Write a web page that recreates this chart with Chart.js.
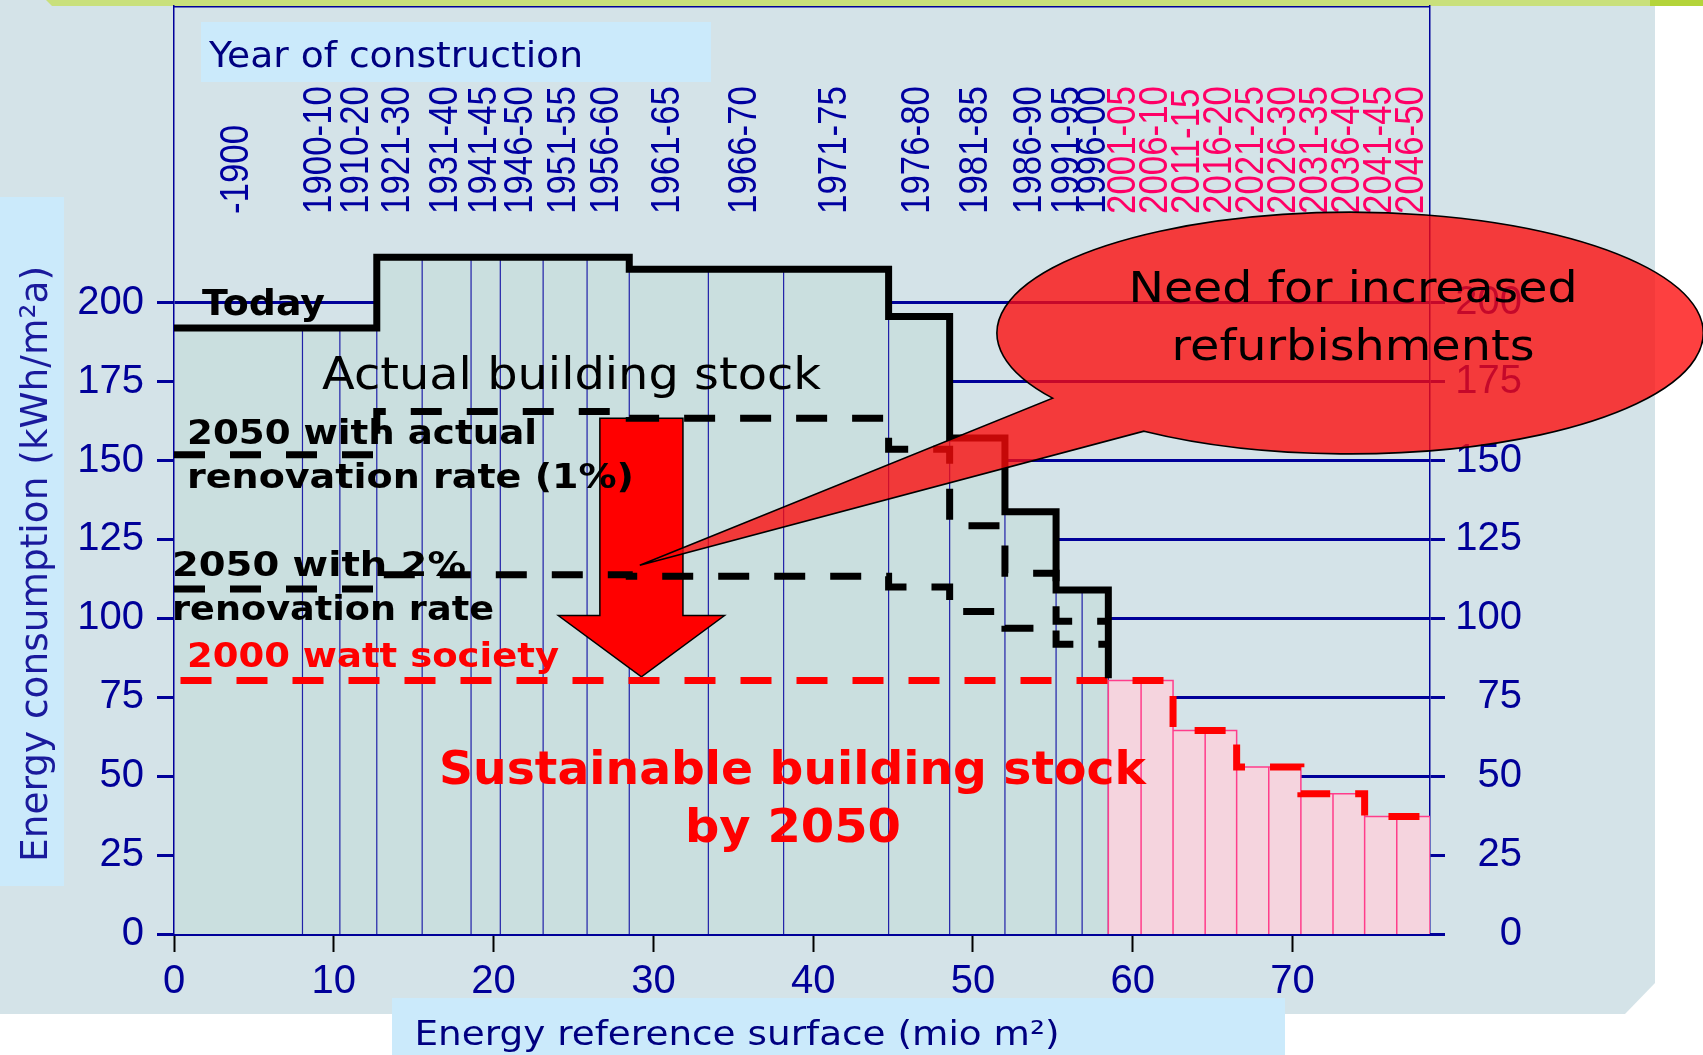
<!DOCTYPE html>
<html>
<head>
<meta charset="utf-8">
<title>Building stock energy consumption</title>
<script src="https://cdn.jsdelivr.net/npm/chart.js@4.4.1/dist/chart.umd.min.js"></script>
<style>
  html, body { margin: 0; padding: 0; background: #fff; }
  #wrap { width: 1703px; height: 1055px; }
</style>
</head>
<body>
<div id="wrap"><canvas id="chart" width="1703" height="1055"></canvas></div>
<script>
// ------------------------------------------------------------
// Data
// ------------------------------------------------------------

// segment edges on the x axis (mio m2), one segment per construction period
const segEdges = [0, 8.04, 10.38, 12.69, 15.53, 18.59, 20.42, 23.10, 25.85, 28.49, 33.44, 38.15,
  44.72, 48.54, 52.0, 55.2, 56.83, 58.47,
  60.52, 62.52, 64.53, 66.50, 68.51, 70.52, 72.53, 74.51, 76.52, 78.60];

const yearLabels = ['-1900', '1900-10', '1910-20', '1921-30', '1931-40', '1941-45', '1946-50',
  '1951-55', '1956-60', '1961-65', '1966-70', '1971-75', '1976-80', '1981-85', '1986-90',
  '1991-95', '1996-00',
  '2001-05', '2006-10', '2011-15', '2016-20', '2021-25', '2026-30', '2031-35', '2036-40',
  '2041-45', '2046-50'];

// existing stock (17 periods), kWh/m2a
const todayValues = [192, 192, 192, 214.4, 214.4, 214.4, 214.4, 214.4, 214.4,
  210.6, 210.6, 210.6, 195.6, 157.1, 133.8, 109, 109];
const todayDropTo = 81;
const renov1Values = [151.8, 151.8, 151.8, 165.5, 165.5, 165.5, 165.5, 165.5, 165.5,
  163.4, 163.4, 163.4, 153.6, 129.3, 114.3, 99.1, 99.1];
const renov2Values = [109.3, 109.3, 109.3, 113.8, 113.8, 113.8, 113.8, 113.8, 113.8,
  113.3, 113.3, 113.3, 109.9, 102.2, 96.9, 91.8, 91.8];

// 2000 watt society target and new buildings (10 periods)
const wattLevel = 80.3;
const futureValues = [80.3, 80.3, 64.5, 64.5, 52.9, 52.9, 44.4, 44.4, 37.2, 37.2];

const xTicks = [0, 10, 20, 30, 40, 50, 60, 70];
const yTicks = [0, 25, 50, 75, 100, 125, 150, 175, 200];

// ------------------------------------------------------------
// Colours / fonts
// ------------------------------------------------------------
const NAVY = '#000099';
const PANEL = '#d4e3e8';
const STOCK_FILL = '#cadfdf';
const BOX = '#cbeafb';
const PINK_FILL = '#f5d4de';
const PINK_LINE = '#ff3d8b';
const YEAR_RED = '#ff0066';
const SANS = "'DejaVu Sans', Verdana, sans-serif";
const ARIAL = "'Liberation Sans', Arial, sans-serif";

const nStock = todayValues.length;

function stepLine(edges, values, from, endValue) {
  const pts = values.map((v, i) => ({ x: edges[from + i], y: v }));
  const last = endValue === undefined ? values[values.length - 1] : endValue;
  pts.push({ x: edges[from + values.length], y: last });
  return pts;
}

// outline of adjacent bars: down to 0 at every edge so the separators get drawn
function barOutline(edges, values, from) {
  const pts = [];
  values.forEach((v, i) => {
    const x0 = edges[from + i], x1 = edges[from + i + 1];
    pts.push({ x: x0, y: 0 }, { x: x0, y: v }, { x: x1, y: v }, { x: x1, y: 0 });
  });
  return pts;
}

function drawText(ctx, text, x, y, o) {
  ctx.save();
  ctx.font = o.font;
  ctx.fillStyle = o.color || '#000';
  ctx.textBaseline = 'alphabetic';
  ctx.textAlign = o.align || 'left';
  ctx.translate(x, y);
  if (o.rotate) ctx.rotate(o.rotate);
  if (o.width) ctx.scale(o.width / ctx.measureText(text).width, 1);
  else if (o.squeeze) ctx.scale(o.squeeze, 1);
  ctx.fillText(text, 0, 0);
  ctx.restore();
}

// keep the plot box exactly where the slide has it
function fixBox(size) {
  return s => {
    if (s.isHorizontal()) s.height = size; else s.width = size;
    s.paddingTop = 0; s.paddingBottom = 0; s.paddingLeft = 0; s.paddingRight = 0;
  };
}

// slide background, title boxes, axis titles
const slidePlugin = {
  id: 'slide',
  beforeDraw(chart) {
    const ctx = chart.ctx;
    ctx.save();
    ctx.fillStyle = '#fff';
    ctx.fillRect(0, 0, chart.width, chart.height);
    ctx.fillStyle = PANEL;
    ctx.beginPath();
    ctx.moveTo(0, 0); ctx.lineTo(1655, 0); ctx.lineTo(1655, 983);
    ctx.lineTo(1625, 1014); ctx.lineTo(0, 1014); ctx.closePath();
    ctx.fill();
    ctx.fillStyle = '#c9e07b';
    ctx.beginPath();
    ctx.moveTo(46, 0); ctx.lineTo(1650, 0); ctx.lineTo(1650, 6); ctx.lineTo(52, 6); ctx.closePath();
    ctx.fill();
    ctx.fillStyle = '#b4d43a';
    ctx.fillRect(1650, 0, 53, 6);

    ctx.fillStyle = BOX;
    ctx.fillRect(0, 197, 64, 689);
    ctx.fillRect(392, 998, 893, 57);
    ctx.fillRect(201, 22, 510, 60);
    ctx.restore();

    drawText(ctx, 'Year of construction', 209, 66.5, { font: `36px ${SANS}`, color: '#000080', width: 374 });
    drawText(ctx, 'Energy consumption (kWh/m²a)', 47, 862,
      { font: `38px ${SANS}`, color: '#1a1a9c', rotate: -Math.PI / 2, width: 596 });
    drawText(ctx, 'Energy reference surface (mio m²)', 414.5, 1045,
      { font: `34px ${SANS}`, color: '#000080', width: 645 });
  },

  // big red arrow sits on the bars but below the scenario lines
  beforeDatasetDraw(chart, args) {
    if (chart.data.datasets[args.index].label !== '2000 watt society') return;
    const ctx = chart.ctx;
    const x = chart.scales.x, y = chart.scales.y;
    const cx = 29.25, shaft = 2.6, head = 5.2;
    ctx.save();
    ctx.beginPath();
    ctx.moveTo(x.getPixelForValue(cx - shaft), y.getPixelForValue(163.4));
    ctx.lineTo(x.getPixelForValue(cx + shaft), y.getPixelForValue(163.4));
    ctx.lineTo(x.getPixelForValue(cx + shaft), y.getPixelForValue(100.9));
    ctx.lineTo(x.getPixelForValue(cx + head), y.getPixelForValue(100.9));
    ctx.lineTo(x.getPixelForValue(cx), y.getPixelForValue(81.5));
    ctx.lineTo(x.getPixelForValue(cx - head), y.getPixelForValue(100.9));
    ctx.lineTo(x.getPixelForValue(cx - shaft), y.getPixelForValue(100.9));
    ctx.closePath();
    ctx.fillStyle = '#ff0000';
    ctx.fill();
    ctx.lineWidth = 1.5;
    ctx.strokeStyle = '#000';
    ctx.stroke();
    ctx.restore();
  },

  afterDatasetsDraw(chart) {
    const ctx = chart.ctx;
    const { left, right, top } = chart.chartArea;
    const xs = chart.scales.x;

    ctx.save();
    ctx.strokeStyle = NAVY;
    ctx.lineWidth = 1.5;
    ctx.beginPath();
    ctx.moveTo(left, top + 0.75);
    ctx.lineTo(right, top + 0.75);
    ctx.stroke();
    ctx.restore();

    // construction periods, rotated
    yearLabels.forEach((lab, i) => {
      const c = xs.getPixelForValue((segEdges[i] + segEdges[i + 1]) / 2);
      drawText(ctx, lab, c + 10, 214, {
        font: `41px ${ARIAL}`, color: i < nStock ? '#0000a0' : YEAR_RED,
        rotate: -Math.PI / 2, squeeze: 0.85
      });
    });

    drawText(ctx, 'Today', 202, 315, { font: `bold 35px ${SANS}`, width: 123 });
    drawText(ctx, 'Actual building stock', 322, 388.5, { font: `44px ${SANS}`, width: 499 });
    drawText(ctx, '2050 with actual', 187, 443.5, { font: `bold 34px ${SANS}`, width: 350 });
    drawText(ctx, 'renovation rate (1%)', 187, 488, { font: `bold 34px ${SANS}`, width: 447 });
    drawText(ctx, '2050 with 2%', 172, 576, { font: `bold 34px ${SANS}`, width: 294 });
    drawText(ctx, 'renovation rate', 172, 620, { font: `bold 34px ${SANS}`, width: 322 });
    drawText(ctx, '2000 watt society', 187, 666.5, { font: `bold 34px ${SANS}`, color: '#ff0000', width: 372 });
    drawText(ctx, 'Sustainable building stock', 792.5, 783.5,
      { font: `bold 46px ${SANS}`, color: '#ff0000', align: 'center', width: 707 });
    drawText(ctx, 'by 2050', 793, 841.5,
      { font: `bold 46px ${SANS}`, color: '#ff0000', align: 'center', width: 216 });
  },

  // speech bubble on top of everything
  afterDraw(chart) {
    const ctx = chart.ctx;
    const x = chart.scales.x, y = chart.scales.y;
    const cx = x.getPixelForValue(73.6), cy = y.getPixelForValue(190.4);
    const rx = x.getPixelForValue(73.6 + 22.1) - cx;
    const ry = y.getPixelForValue(190.4 - 38.3) - cy;
    const a1 = 147.4 * Math.PI / 180, a2 = 125.7 * Math.PI / 180;
    ctx.save();
    ctx.beginPath();
    ctx.ellipse(cx, cy, rx, ry, 0, a1, a2, false);
    ctx.lineTo(x.getPixelForValue(29.15), y.getPixelForValue(116.8));
    ctx.closePath();
    ctx.fillStyle = 'rgba(252,10,10,0.78)';
    ctx.fill();
    ctx.lineWidth = 1.6;
    ctx.strokeStyle = '#000';
    ctx.stroke();
    ctx.restore();

    drawText(ctx, 'Need for increased', 1353, 301.5, { font: `43px ${SANS}`, align: 'center', width: 449 });
    drawText(ctx, 'refurbishments', 1353, 360, { font: `43px ${SANS}`, align: 'center', width: 363 });
  }
};

const lineBase = {
  type: 'line', pointRadius: 0, borderWidth: 7, stepped: true, fill: false,
  borderCapStyle: 'butt', borderJoinStyle: 'miter', tension: 0
};

new Chart(document.getElementById('chart'), {
  type: 'line',
  data: {
    datasets: [
      {
        label: 'stock', order: 10, data: barOutline(segEdges, todayValues, 0),
        borderColor: '#2020a8', borderWidth: 1.2, backgroundColor: STOCK_FILL,
        fill: 'origin', pointRadius: 0, tension: 0
      },
      {
        label: 'new', order: 9, data: barOutline(segEdges, futureValues, nStock),
        borderColor: PINK_LINE, borderWidth: 1.5, backgroundColor: PINK_FILL,
        fill: 'origin', pointRadius: 0, tension: 0
      },
      Object.assign({}, lineBase, {
        label: '2000 watt society', order: 4,
        data: [{ x: segEdges[0], y: wattLevel }].concat(stepLine(segEdges, futureValues, nStock)),
        borderColor: '#ff0000', borderDash: [31, 25], borderDashOffset: 49.5
      }),
      Object.assign({}, lineBase, {
        label: '2050 with 2% renovation rate', order: 3,
        data: stepLine(segEdges, renov2Values, 0),
        borderColor: '#000', borderDash: [31, 25]
      }),
      Object.assign({}, lineBase, {
        label: '2050 with actual renovation rate (1%)', order: 2,
        data: stepLine(segEdges, renov1Values, 0),
        borderColor: '#000', borderDash: [31, 25]
      }),
      Object.assign({}, lineBase, {
        label: 'Today', order: 1,
        data: stepLine(segEdges, todayValues, 0, todayDropTo),
        borderColor: '#000'
      })
    ]
  },
  options: {
    responsive: false,
    devicePixelRatio: 1,
    animation: false,
    events: [],
    layout: { padding: { top: 6, right: 181, bottom: 0, left: 0 } },
    plugins: { legend: { display: false }, tooltip: { enabled: false } },
    scales: {
      x: {
        type: 'linear', position: 'bottom', min: 0, max: segEdges[segEdges.length - 1],
        afterBuildTicks: s => { s.ticks = xTicks.map(v => ({ value: v })); },
        afterFit: fixBox(121),
        grid: { drawOnChartArea: false, tickLength: 18, tickColor: '#000', tickWidth: 2 },
        border: { color: NAVY, width: 3 },
        ticks: { color: NAVY, font: { family: ARIAL, size: 40 }, padding: 6, maxRotation: 0, autoSkip: false }
      },
      y: {
        type: 'linear', position: 'left', min: 0, max: 294,
        afterBuildTicks: s => { s.ticks = yTicks.map(v => ({ value: v })); },
        afterFit: fixBox(174),
        grid: { color: NAVY, lineWidth: 3, tickLength: 17 },
        border: { color: NAVY, width: 1.5 },
        ticks: { color: NAVY, font: { family: ARIAL, size: 40 }, padding: 13 }
      },
      y2: {
        type: 'linear', position: 'right', min: 0, max: 294,
        afterBuildTicks: s => { s.ticks = yTicks.map(v => ({ value: v })); },
        afterFit: fixBox(92),
        grid: { drawOnChartArea: false, color: NAVY, lineWidth: 3, tickLength: 15 },
        border: { color: NAVY, width: 1.5 },
        ticks: { color: NAVY, font: { family: ARIAL, size: 40 }, padding: 10, crossAlign: 'far' }
      }
    }
  },
  plugins: [slidePlugin]
});
</script>
</body>
</html>
